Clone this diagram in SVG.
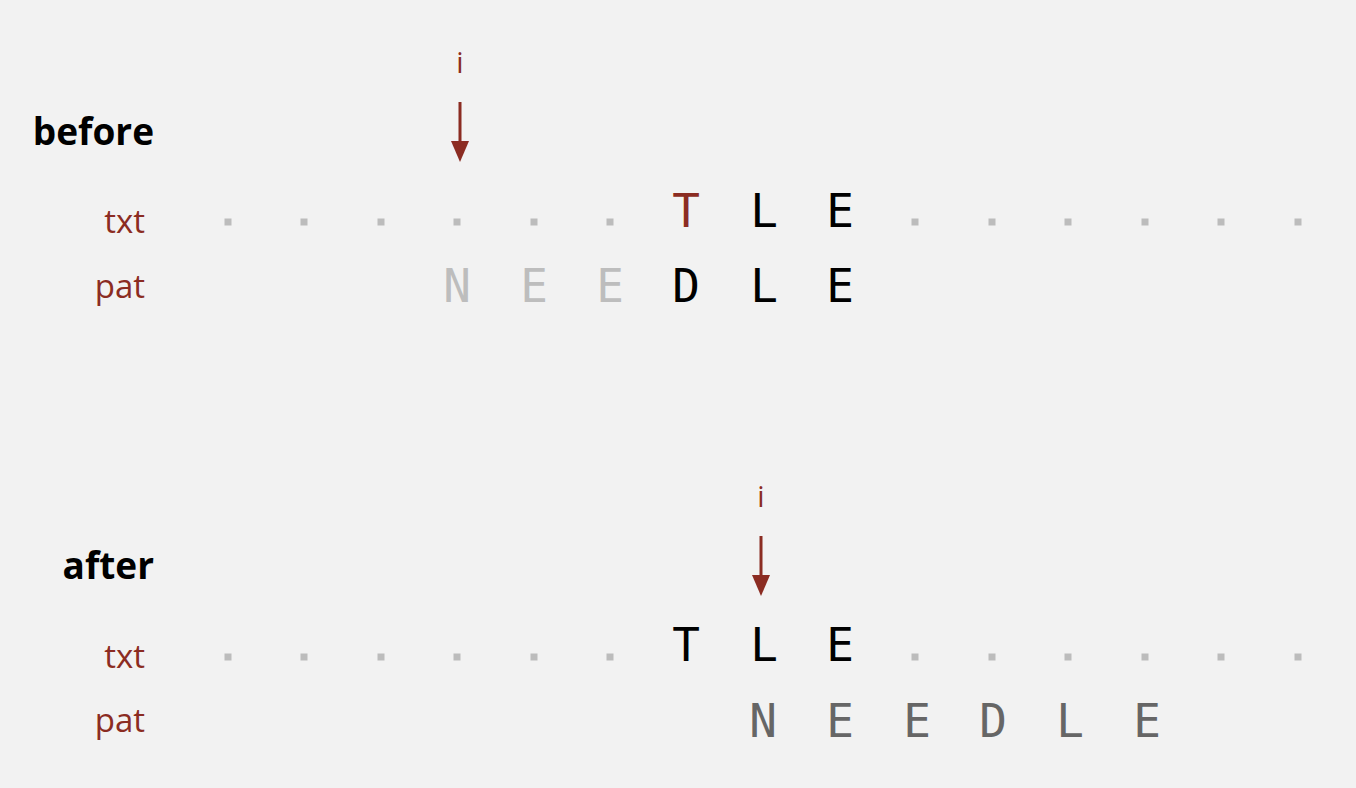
<svg xmlns="http://www.w3.org/2000/svg" width="1356" height="788" viewBox="0 0 1356 788">
<style>
.title{font-family:"Open Sans","Liberation Sans",sans-serif;font-weight:bold;font-size:37px;fill:#000;text-anchor:end}
.lbl{font-family:"Open Sans","Liberation Sans",sans-serif;font-size:33px;fill:#8b2c22;text-anchor:end}
.idx{font-family:"Open Sans","Liberation Sans",sans-serif;font-size:29px;fill:#8b2c22;text-anchor:middle}
.ch{font-family:"DejaVu Sans Mono","Liberation Mono",monospace;font-size:46px;text-anchor:middle}
.blk{fill:#000}.red{fill:#8b2c22}.lt{fill:#bdbdbd}.dk{fill:#666}
.dot{fill:#bcbcbc}
.arr{stroke:#8b2c22;stroke-width:3;fill:none}
.head{fill:#8b2c22}
</style>
<defs>
<rect id="d" x="-3.5" y="-3.5" width="7" height="7"/>
</defs>
<rect width="1356" height="788" fill="#f2f2f2"/>

<g id="before">
<text class="title" x="154" y="145">before</text>
<text class="lbl" x="145" y="233">txt</text>
<text class="lbl" x="145" y="298">pat</text>
<text class="idx" x="460" y="73">i</text>
<g class="dot">
<use href="#d" x="228" y="222"/><use href="#d" x="304" y="222"/><use href="#d" x="381" y="222"/><use href="#d" x="457" y="222"/><use href="#d" x="534" y="222"/><use href="#d" x="610" y="222"/>
<use href="#d" x="915" y="222"/><use href="#d" x="992" y="222"/><use href="#d" x="1068" y="222"/><use href="#d" x="1145" y="222"/><use href="#d" x="1221" y="222"/><use href="#d" x="1298" y="222"/>
</g>
<text class="ch red" x="686" y="227">T</text>
<text class="ch blk" x="764" y="227">L</text>
<text class="ch blk" x="840" y="227">E</text>
<text class="ch lt" x="457" y="302">N</text>
<text class="ch lt" x="534" y="302">E</text>
<text class="ch lt" x="610" y="302">E</text>
<text class="ch blk" x="686" y="302">D</text>
<text class="ch blk" x="764" y="302">L</text>
<text class="ch blk" x="840" y="302">E</text>
</g>

<g id="after">
<text class="title" x="154" y="579">after</text>
<text class="lbl" x="145" y="668">txt</text>
<text class="lbl" x="145" y="732">pat</text>
<text class="idx" x="761" y="507">i</text>
<g class="dot">
<use href="#d" x="228" y="657"/><use href="#d" x="304" y="657"/><use href="#d" x="381" y="657"/><use href="#d" x="457" y="657"/><use href="#d" x="534" y="657"/><use href="#d" x="610" y="657"/>
<use href="#d" x="915" y="657"/><use href="#d" x="992" y="657"/><use href="#d" x="1068" y="657"/><use href="#d" x="1145" y="657"/><use href="#d" x="1221" y="657"/><use href="#d" x="1298" y="657"/>
</g>
<text class="ch blk" x="686" y="661">T</text>
<text class="ch blk" x="764" y="661">L</text>
<text class="ch blk" x="840" y="661">E</text>
<text class="ch dk" x="763" y="737">N</text>
<text class="ch dk" x="840" y="737">E</text>
<text class="ch dk" x="917" y="737">E</text>
<text class="ch dk" x="993" y="737">D</text>
<text class="ch dk" x="1070" y="737">L</text>
<text class="ch dk" x="1147" y="737">E</text>
</g>

<g id="connectors">
<line class="arr" x1="460" y1="102" x2="460" y2="148"/>
<path class="head" d="M451,141 L469,141 L460,162 Z"/>
<line class="arr" x1="761" y1="536" x2="761" y2="582"/>
<path class="head" d="M752,575 L770,575 L761,596 Z"/>
</g>
</svg>
